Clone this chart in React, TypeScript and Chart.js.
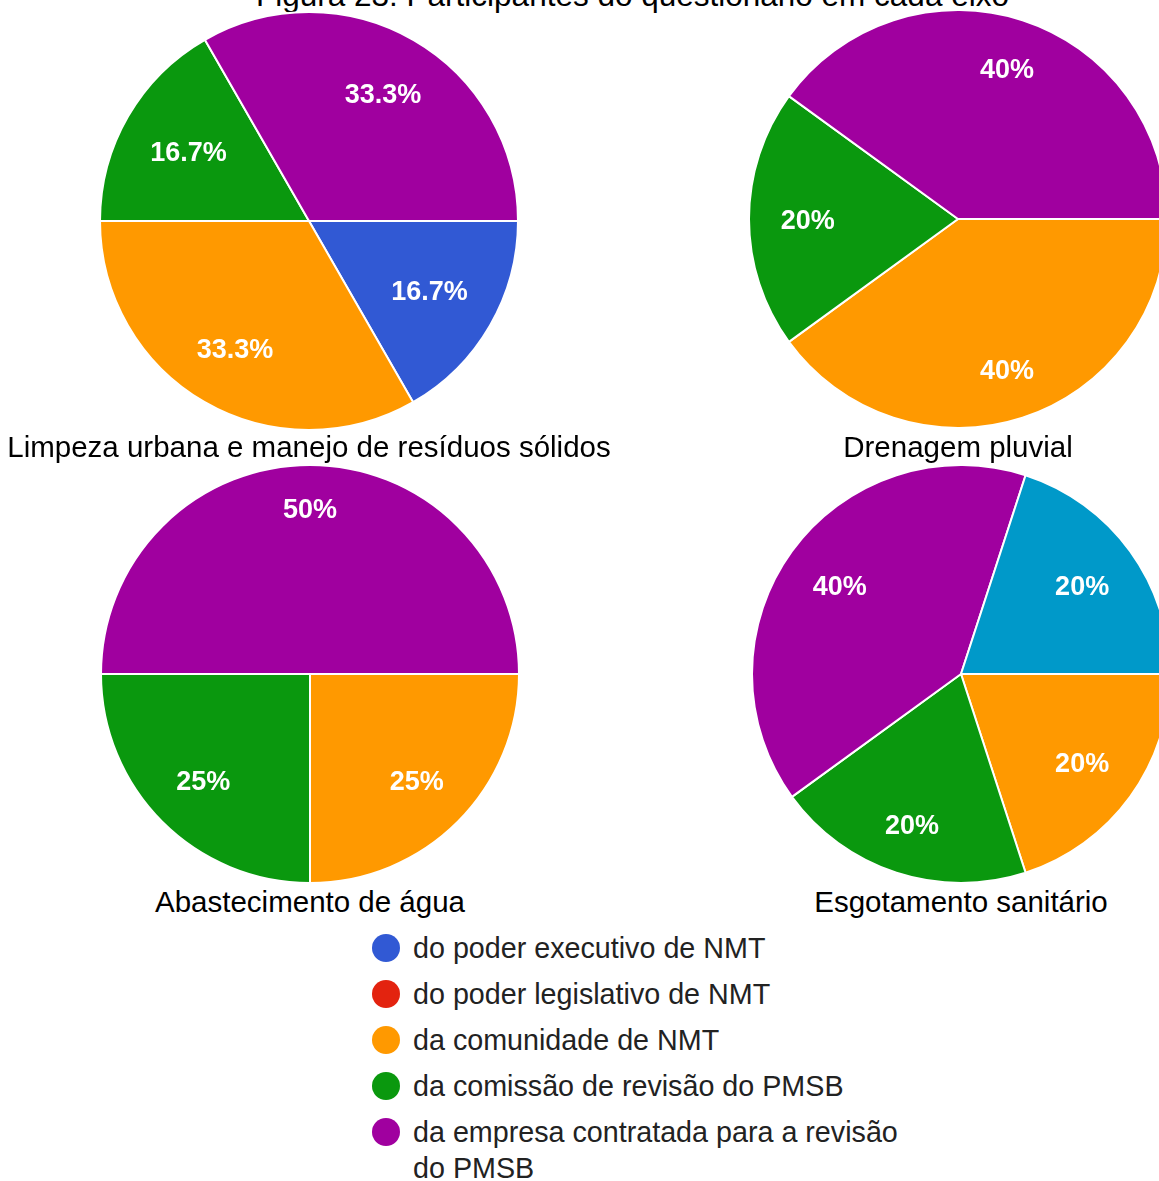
import React, { useEffect, useRef } from "react";
import { Chart, registerables } from "chart.js";

Chart.register(...registerables);

const titleText = "Figura 23: Participantes do questionário em cada eixo";

const categories = [
  "do poder executivo de NMT",
  "do poder legislativo de NMT",
  "da comunidade de NMT",
  "da comissão de revisão do PMSB",
  "da empresa contratada para a revisão do PMSB",
  "Outro",
];
const sliceColors = ["#3159d4", "#e3230f", "#ff9900", "#0a980e", "#a0009f", "#0099c9"];
const legendCount = 5;

const pieTitles = [
  "Limpeza urbana e manejo de resíduos sólidos",
  "Drenagem pluvial",
  "Abastecimento de água",
  "Esgotamento sanitário",
];
const limpezaValues = [16.7, 0, 33.3, 16.7, 33.3, 0];
const drenagemValues = [0, 0, 40, 20, 40, 0];
const abastecimentoValues = [0, 0, 25, 25, 50, 0];
const esgotamentoValues = [0, 0, 20, 20, 40, 20];
const pieValues = [limpezaValues, drenagemValues, abastecimentoValues, esgotamentoValues];

// layout (page coordinates)
const pieCenters = [
  [309, 221],
  [958, 219],
  [310, 674],
  [961, 674],
];
const captionBaselines = [457, 457, 912, 912];
const CANVAS = 420;

const fmt = (v: number) => (Number.isInteger(v) ? `${v}%` : `${v.toFixed(1)}%`);

const labelPlugin = {
  id: "pctLabels",
  afterDatasetsDraw(chart: any) {
    const ctx = chart.ctx;
    const meta = chart.getDatasetMeta(0);
    const data = chart.data.datasets[0].data as number[];
    ctx.save();
    ctx.font = "bold 27px 'Liberation Sans', Arial, sans-serif";
    ctx.fillStyle = "#ffffff";
    ctx.textAlign = "center";
    ctx.textBaseline = "alphabetic";
    meta.data.forEach((arc: any, i: number) => {
      const v = data[i];
      if (!v) return;
      const p = arc.getProps(["x", "y", "startAngle", "endAngle", "outerRadius"], true);
      const mid = (p.startAngle + p.endAngle) / 2;
      const ux = Math.cos(mid);
      const uy = Math.sin(mid);
      const text = fmt(v);
      const w = ctx.measureText(text).width / 2;
      const h = 10;
      const R0 = p.outerRadius * 0.85;
      const b = w * Math.abs(ux) + h * Math.abs(uy);
      const d = -b + Math.sqrt(b * b - (w * w + h * h - R0 * R0));
      ctx.fillText(text, p.x + ux * d, p.y + uy * d + 9.5);
    });
    ctx.restore();
  },
};

function PieCanvas({ values }: { values: number[] }) {
  const ref = useRef<HTMLCanvasElement | null>(null);
  useEffect(() => {
    if (!ref.current) return;
    const chart = new Chart(ref.current, {
      type: "pie",
      data: {
        labels: categories,
        datasets: [
          {
            data: values,
            backgroundColor: sliceColors,
            borderColor: "#ffffff",
            borderWidth: 2,
          },
        ],
      },
      options: {
        responsive: false,
        animation: false,
        events: [],
        rotation: 90,
        layout: { padding: 0 },
        plugins: { legend: { display: false }, tooltip: { enabled: false } },
      },
      plugins: [labelPlugin],
    });
    return () => chart.destroy();
  }, [values]);
  return <canvas ref={ref} width={CANVAS} height={CANVAS} style={{ width: CANVAS, height: CANVAS }} />;
}

export default function App() {
  const font = "'Liberation Sans', Arial, Helvetica, sans-serif";
  const capSize = 29.5;
  return (
    <div
      style={{
        position: "absolute",
        left: 0,
        top: 0,
        width: 1159,
        height: 1181,
        overflow: "hidden",
        background: "#ffffff",
        fontFamily: font,
      }}
    >
      <div
        style={{
          position: "absolute",
          left: 256,
          top: 7 - 0.8465 * 31.5,
          fontSize: 31.5,
          lineHeight: "31.5px",
          whiteSpace: "nowrap",
          color: "#000",
        }}
      >
        {titleText}
      </div>
      {pieValues.map((vals, i) => (
        <div
          key={i}
          style={{
            position: "absolute",
            left: pieCenters[i][0] - CANVAS / 2,
            top: pieCenters[i][1] - CANVAS / 2,
            width: CANVAS,
            height: CANVAS,
          }}
        >
          <PieCanvas values={vals} />
        </div>
      ))}
      {pieTitles.map((t, i) => (
        <div
          key={"t" + i}
          style={{
            position: "absolute",
            left: pieCenters[i][0] - 400,
            width: 800,
            top: captionBaselines[i] - 0.8465 * capSize,
            textAlign: "center",
            fontSize: capSize,
            lineHeight: `${capSize}px`,
            whiteSpace: "nowrap",
            color: "#000",
          }}
        >
          {t}
        </div>
      ))}
      <div style={{ position: "absolute", left: 372, top: 930 }}>
        {categories.slice(0, legendCount).map((c, i) => (
          <div key={c} style={{ display: "flex", alignItems: "flex-start", marginBottom: 10 }}>
            <span
              style={{
                display: "inline-block",
                width: 28,
                height: 28,
                borderRadius: 14,
                background: sliceColors[i],
                marginTop: 4,
                flex: "0 0 auto",
              }}
            />
            <span
              style={{
                marginLeft: 13,
                fontSize: 28.7,
                lineHeight: "36px",
                color: "#222",
                maxWidth: 495,
              }}
            >
              {c}
            </span>
          </div>
        ))}
      </div>
    </div>
  );
}
